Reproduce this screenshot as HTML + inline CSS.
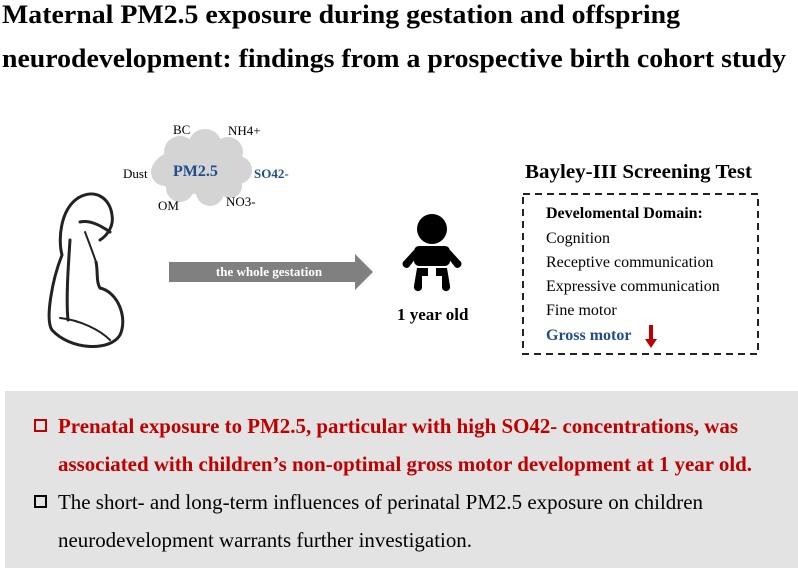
<!DOCTYPE html>
<html><head><meta charset="utf-8"><style>
html,body{margin:0;padding:0;background:#fff;}
svg{display:block;}
text{font-family:"Liberation Serif",serif;}
</style></head><body>
<svg width="798" height="568" viewBox="0 0 798 568" xmlns="http://www.w3.org/2000/svg">
<rect width="798" height="568" fill="#fff"/>
<text x="2" y="23" font-size="26" font-weight="bold" textLength="678" lengthAdjust="spacingAndGlyphs">Maternal PM2.5 exposure during gestation and offspring</text>
<text x="2" y="67" font-size="26" font-weight="bold" textLength="784" lengthAdjust="spacingAndGlyphs">neurodevelopment: findings from a prospective birth cohort study</text>

<g fill="#d4d4d4">
<ellipse cx="200" cy="170" rx="48" ry="24"/>
<circle cx="180" cy="152" r="16"/><circle cx="205" cy="146" r="17"/><circle cx="228" cy="152" r="15"/>
<circle cx="165" cy="172" r="14"/><circle cx="238" cy="170" r="14"/>
<circle cx="180" cy="188" r="14"/><circle cx="210" cy="192" r="14"/><circle cx="230" cy="186" r="12"/>
</g>
<text x="173" y="176" font-size="16" font-weight="bold" fill="#1f4e8c">PM2.5</text>
<text x="173" y="134" font-size="13">BC</text>
<text x="228" y="135" font-size="13">NH4+</text>
<text x="123" y="178" font-size="13">Dust</text>
<text x="254" y="178" font-size="13" font-weight="bold" fill="#1f4e8c">SO42-</text>
<text x="158" y="210" font-size="13">OM</text>
<text x="226" y="206" font-size="13">NO3-</text>

<g fill="none" stroke="#222" stroke-width="3" stroke-linecap="round">
<path d="M78 198 C60 210 58 240 62 255 C52 280 45 320 52 330 C70 350 110 352 120 335 C128 318 118 292 100 288 C96 282 98 270 96 262"/>
<path d="M78 198 C95 188 110 198 112 215 C114 225 108 235 100 240"/>
<path d="M80 222 C90 220 100 225 110 232"/>
<path d="M70 240 C68 270 66 300 68 320"/>
<path d="M60 318 C80 320 100 330 110 340" stroke-width="2"/>
<path d="M85 232 C88 240 92 250 96 262" stroke-width="2"/>
</g>

<path d="M169 262 H355 V254 L373 272 L355 290 V282 H169 Z" fill="#808080"/>
<text x="269" y="276" font-size="13" font-weight="bold" fill="#fff" text-anchor="middle">the whole gestation</text>

<g fill="#000">
<circle cx="432" cy="229" r="15"/>
<rect x="414" y="246" width="36" height="20" rx="5"/>
<path d="M414 250 L403 262 A4 4 0 0 0 409 267 L416 258 Z"/>
<path d="M450 250 L461 262 A4 4 0 0 1 455 267 L448 258 Z"/>
<path d="M417 268 H428 V276 H422 V288 A4 4 0 0 1 414 286 Z"/>
<path d="M436 268 H447 L450 286 A4 4 0 0 1 442 288 V276 H436 Z"/>
</g>
<text x="397" y="320" font-size="17" font-weight="bold">1 year old</text>

<text x="525" y="178" font-size="20" font-weight="bold" textLength="227" lengthAdjust="spacingAndGlyphs">Bayley-III Screening Test</text>
<rect x="523" y="194" width="235" height="160" fill="none" stroke="#222" stroke-width="2" stroke-dasharray="7,5"/>
<text x="546" y="218" font-size="16" font-weight="bold">Develomental Domain:</text>
<text x="546" y="243" font-size="16">Cognition</text>
<text x="546" y="267" font-size="16">Receptive communication</text>
<text x="546" y="291" font-size="16">Expressive communication</text>
<text x="546" y="315" font-size="16">Fine motor</text>
<text x="546" y="340" font-size="16" font-weight="bold" fill="#1f4e8c">Gross motor</text>
<path d="M649 325 V339 H645 L651 348 L657 339 H653 V325 Z" fill="#c00000"/>

<rect x="5" y="391" width="793" height="177" fill="#e3e3e3"/>
<rect x="35" y="420" width="11" height="11" fill="none" stroke="#c00000" stroke-width="2"/>
<text x="58" y="433" font-size="21" font-weight="bold" fill="#c00000" textLength="680" lengthAdjust="spacingAndGlyphs">Prenatal exposure to PM2.5, particular with high SO42- concentrations, was</text>
<text x="58" y="471" font-size="21" font-weight="bold" fill="#c00000" textLength="694" lengthAdjust="spacingAndGlyphs">associated with children’s non-optimal gross motor development at 1 year old.</text>
<rect x="35" y="496" width="11" height="11" fill="none" stroke="#000" stroke-width="2"/>
<text x="58" y="509" font-size="21" textLength="645" lengthAdjust="spacingAndGlyphs">The short- and long-term influences of perinatal PM2.5 exposure on children</text>
<text x="58" y="547" font-size="21" textLength="414" lengthAdjust="spacingAndGlyphs">neurodevelopment warrants further investigation.</text>
</svg>
</body></html>
